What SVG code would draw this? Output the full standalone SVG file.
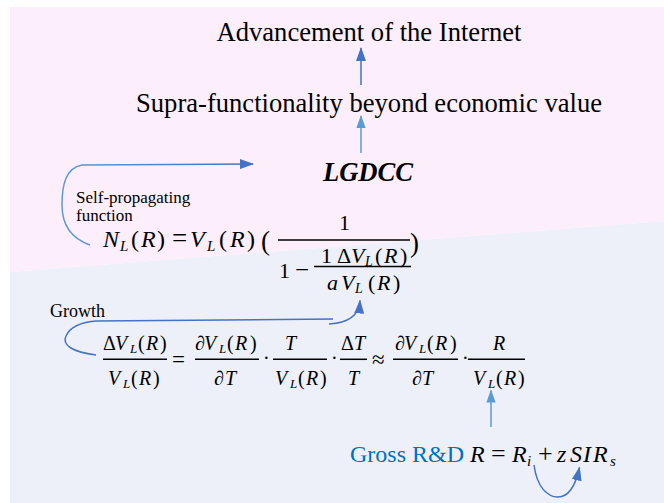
<svg xmlns="http://www.w3.org/2000/svg" width="664" height="503" viewBox="0 0 664 503">
<style>
.t{font-family:"Liberation Serif","DejaVu Serif",serif;fill:#000}
.h{font-size:26.6px}
.m{font-family:"Liberation Serif","DejaVu Serif",serif;font-style:italic;fill:#000}
.u{font-style:normal}
.f1{font-size:24px}
.f2{font-size:20px}
.f3{font-size:22px}
.s1{font-size:15px}
.s2{font-size:13px}
.s3{font-size:14px}
.ln{stroke:#000;stroke-width:1.5;fill:none}
.cd{stroke:#4472C4;stroke-width:1.5;fill:none}
.cl{stroke:#5B9BD5;stroke-width:1.5;fill:none}
</style>
<defs>
<marker id="ahD" viewBox="0 0 14 10" refX="13" refY="5" markerWidth="14" markerHeight="10" markerUnits="userSpaceOnUse" orient="auto"><path d="M0,0 L14,5 L0,10 z" fill="#4472C4"/></marker>
<marker id="ahL" viewBox="0 0 14 10" refX="13" refY="5" markerWidth="13" markerHeight="10" markerUnits="userSpaceOnUse" orient="auto"><path d="M0,0 L14,5 L0,10 z" fill="#5B9BD5"/></marker>
<linearGradient id="gSP" gradientUnits="userSpaceOnUse" x1="60" y1="0" x2="253" y2="0"><stop offset="0" stop-color="#5B9BD5"/><stop offset="1" stop-color="#4472C4"/></linearGradient>
</defs>
<rect x="0" y="0" width="664" height="503" fill="#ffffff"/>
<polygon points="10,7 664,7 664,221 10,272" fill="#FCEFFB"/>
<polygon points="10,272 664,221 664,503 10,503" fill="#EDF0F9"/>

<g id="connectors">
<path class="cd" d="M361,85 V48" marker-end="url(#ahD)"/>
<path class="cl" d="M361,153 V116" marker-end="url(#ahL)"/>
<path d="M90,245 C70,238 62,224 62,205 C62,184 66,168 82,165 L253,164" stroke="url(#gSP)" stroke-width="1.5" fill="none" marker-end="url(#ahD)"/>
<path class="cd" d="M96,355 C72,352 62,345 66,336 C70,327 82,322 97,321 L333,319"/>
<path class="cd" d="M329,324 C348,323 359,316 360,300.5" marker-end="url(#ahD)"/>
<path class="cl" d="M491,427 V390.5" marker-end="url(#ahL)"/>
<path class="cd" d="M534,465 C537,488 548,497 558,497 C568,497 575,488 579.5,467.5" marker-end="url(#ahD)"/>
</g>

<g id="advancement"><text class="t h" x="369" y="41" text-anchor="middle">Advancement of the Internet</text></g>
<g id="supra"><text class="t h" x="369" y="112" text-anchor="middle">Supra-functionality beyond economic value</text></g>
<g id="lgdcc"><text class="t h" x="368" y="181" text-anchor="middle" font-weight="bold" font-style="italic">LGDCC</text></g>

<g id="self-propagating-label">
<text class="t" font-size="17" x="76" y="203">Self-propagating</text>
<text class="t" font-size="17" x="76" y="220.5">function</text>
</g>

<g id="formula-nl">
<text class="m f1" y="247"><tspan x="103">N</tspan><tspan class="s1" x="120" y="251">L</tspan><tspan class="u" x="131" y="247">(</tspan><tspan x="141">R</tspan><tspan class="u" x="157">)</tspan><tspan class="u" x="172" font-size="27">=</tspan><tspan x="190">V</tspan><tspan class="s1" x="207" y="251">L</tspan><tspan class="u" x="219" y="247">(</tspan><tspan x="230">R</tspan><tspan class="u" x="247">)</tspan></text>
<text class="m u" font-size="27" x="261" y="250">(</text>
<text class="m u" font-size="27" x="410" y="252">)</text>
<text class="m u" font-size="22" x="339" y="230">1</text>
<line class="ln" x1="278" y1="240" x2="410" y2="240"/>
<text class="m u" font-size="22" y="278"><tspan x="279">1</tspan><tspan x="295" font-size="25">−</tspan></text>
<line class="ln" x1="314" y1="266.5" x2="411" y2="266.5"/>
<text class="m f3" y="263"><tspan class="u" x="321">1</tspan><tspan class="u" x="337">Δ</tspan><tspan x="351">V</tspan><tspan class="s3" x="365" y="266">L</tspan><tspan class="u" x="375" y="263">(</tspan><tspan x="384">R</tspan><tspan class="u" x="400">)</tspan></text>
<text class="m f3" y="290"><tspan x="327">a</tspan><tspan x="341">V</tspan><tspan class="s3" x="355" y="293">L</tspan><tspan class="u" x="368" y="290">(</tspan><tspan x="377">R</tspan><tspan class="u" x="393">)</tspan></text>
</g>

<g id="growth-label"><text class="t" font-size="18" x="50" y="316.5">Growth</text></g>

<g id="formula-growth">
<g class="m f2">
<text y="350"><tspan class="u" x="103">Δ</tspan><tspan x="115">V</tspan><tspan class="s2" x="130" y="353">L</tspan><tspan class="u" x="138" y="350">(</tspan><tspan x="146">R</tspan><tspan class="u" x="160">)</tspan></text>
<text y="385"><tspan x="108">V</tspan><tspan class="s2" x="123" y="388">L</tspan><tspan class="u" x="131" y="385">(</tspan><tspan x="139">R</tspan><tspan class="u" x="153">)</tspan></text>
<text class="u" x="172" y="367" font-size="23">=</text>
<text y="350"><tspan x="195">∂</tspan><tspan x="204">V</tspan><tspan class="s2" x="219" y="353">L</tspan><tspan class="u" x="227" y="350">(</tspan><tspan x="235">R</tspan><tspan class="u" x="250">)</tspan></text>
<text y="385"><tspan x="214">∂</tspan><tspan x="225">T</tspan></text>
<text class="u" x="263" y="365">·</text>
<text x="285" y="350">T</text>
<text y="385"><tspan x="275">V</tspan><tspan class="s2" x="290" y="388">L</tspan><tspan class="u" x="298" y="385">(</tspan><tspan x="306">R</tspan><tspan class="u" x="320">)</tspan></text>
<text class="u" x="331" y="365">·</text>
<text y="350"><tspan class="u" x="341">Δ</tspan><tspan x="354">T</tspan></text>
<text x="348" y="385">T</text>
<text class="u" x="372" y="367" font-size="23">≈</text>
<text y="350"><tspan x="395">∂</tspan><tspan x="404">V</tspan><tspan class="s2" x="419" y="353">L</tspan><tspan class="u" x="427" y="350">(</tspan><tspan x="435">R</tspan><tspan class="u" x="450">)</tspan></text>
<text y="385"><tspan x="412">∂</tspan><tspan x="422">T</tspan></text>
<text class="u" x="462" y="365">·</text>
<text x="493" y="350">R</text>
<text y="385"><tspan x="473">V</tspan><tspan class="s2" x="488" y="388">L</tspan><tspan class="u" x="496" y="385">(</tspan><tspan x="504">R</tspan><tspan class="u" x="518">)</tspan></text>
</g>
<g class="ln" stroke-width="1.3">
<line x1="103" y1="359.3" x2="167" y2="359.3"/>
<line x1="195" y1="359.3" x2="259" y2="359.3"/>
<line x1="273" y1="359.3" x2="327" y2="359.3"/>
<line x1="340" y1="359.3" x2="367" y2="359.3"/>
<line x1="393" y1="359.3" x2="458" y2="359.3"/>
<line x1="468" y1="359.3" x2="525" y2="359.3"/>
</g>
</g>

<g id="gross-rd">
<text class="t" font-size="24" x="350" y="462" style="fill:#0070C0">Gross R&amp;D</text>
<text class="m f1" y="462"><tspan x="470">R</tspan><tspan class="u" x="491" font-size="26">=</tspan><tspan x="512">R</tspan><tspan class="s1" x="527" y="466">i</tspan><tspan class="u" x="538" y="462" font-size="26">+</tspan><tspan x="557">z</tspan><tspan x="570">S</tspan><tspan x="583">I</tspan><tspan x="593">R</tspan><tspan class="s1" x="610" y="466">s</tspan></text>
</g>
</svg>
